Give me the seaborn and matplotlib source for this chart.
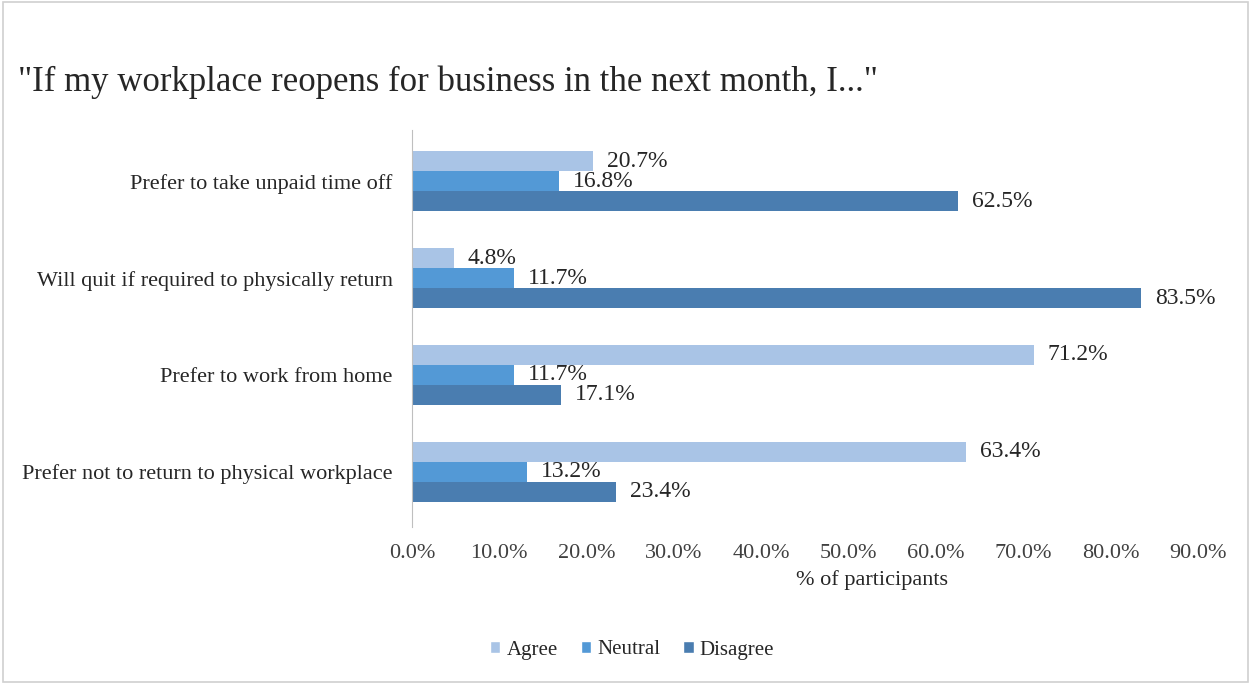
import matplotlib
matplotlib.use("Agg")
import matplotlib.pyplot as plt
import seaborn as sns
import pandas as pd
from matplotlib.patches import Rectangle, Patch

categories = ["Prefer to take unpaid time off",
              "Will quit if required to physically return",
              "Prefer to work from home",
              "Prefer not to return to physical workplace"]
series = ["Agree", "Neutral", "Disagree"]
agree = [20.7, 4.8, 71.2, 63.4]
neutral = [16.8, 11.7, 11.7, 13.2]
disagree = [62.5, 83.5, 17.1, 23.4]
xticks = [0, 10, 20, 30, 40, 50, 60, 70, 80, 90]
colors = ["#A9C4E6", "#5399D6", "#4A7DB0"]

rows = []
for i, c in enumerate(categories):
    for s, vals in zip(series, [agree, neutral, disagree]):
        rows.append({"cat": c, "series": s, "val": vals[i]})
df = pd.DataFrame(rows)

sns.set_style("white")
plt.rcParams["font.family"] = ["Liberation Serif", "DejaVu Serif"]

fig = plt.figure(figsize=(12.51, 6.83), dpi=100)
ax = fig.add_axes([412/1251, 1-527/683, (1198-412)/1251, (527-130)/683])

sns.barplot(data=df, y="cat", x="val", hue="series", order=categories,
            hue_order=series, palette=colors, orient="h", width=0.62,
            ax=ax, legend=False, saturation=1, linewidth=0)

ax.set_xlim(0, 90)
ax.set_ylim(3.57, -0.53)
ax.set_xticks(xticks)
ax.set_xticklabels([f"{t:.1f}%" for t in xticks], fontsize=16, color="#404040")
ax.tick_params(axis="x", length=0, pad=12)
ax.tick_params(axis="y", length=0, pad=14, labelsize=16, labelcolor="#262626")
ax.set_ylabel("")
ax.set_xlabel("")
for sp in ["top", "right", "bottom"]:
    ax.spines[sp].set_visible(False)
ax.spines["left"].set_color("#BFBFBF")

for cont in ax.containers:
    ax.bar_label(cont, labels=[f"{v:.1f}%" for v in cont.datavalues],
                 padding=10, fontsize=17, color="#262626")

fig.text(872/1251, 1-580/683, "% of participants", ha="center", va="center",
         fontsize=16, color="#262626")
fig.text(18/1251, 1-82/683,
         '"If my workplace reopens for business in the next month, I..."',
         ha="left", va="center", fontsize=25, color="#262626")

handles = [Patch(facecolor=c, label=s) for c, s in zip(colors, series)]
fig.legend(handles=handles, loc="center", bbox_to_anchor=(632/1251, 1-650/683),
           ncol=3, frameon=False, fontsize=15, handlelength=0.5, handleheight=0.5,
           handletextpad=0.3, columnspacing=1.1, labelcolor="#262626")

fig.patches.append(Rectangle((0.002, 0.002), 0.996, 0.995, transform=fig.transFigure,
                             fill=False, edgecolor="#D0D0D0", linewidth=1.2))

fig.savefig("out.png", dpi=100)
